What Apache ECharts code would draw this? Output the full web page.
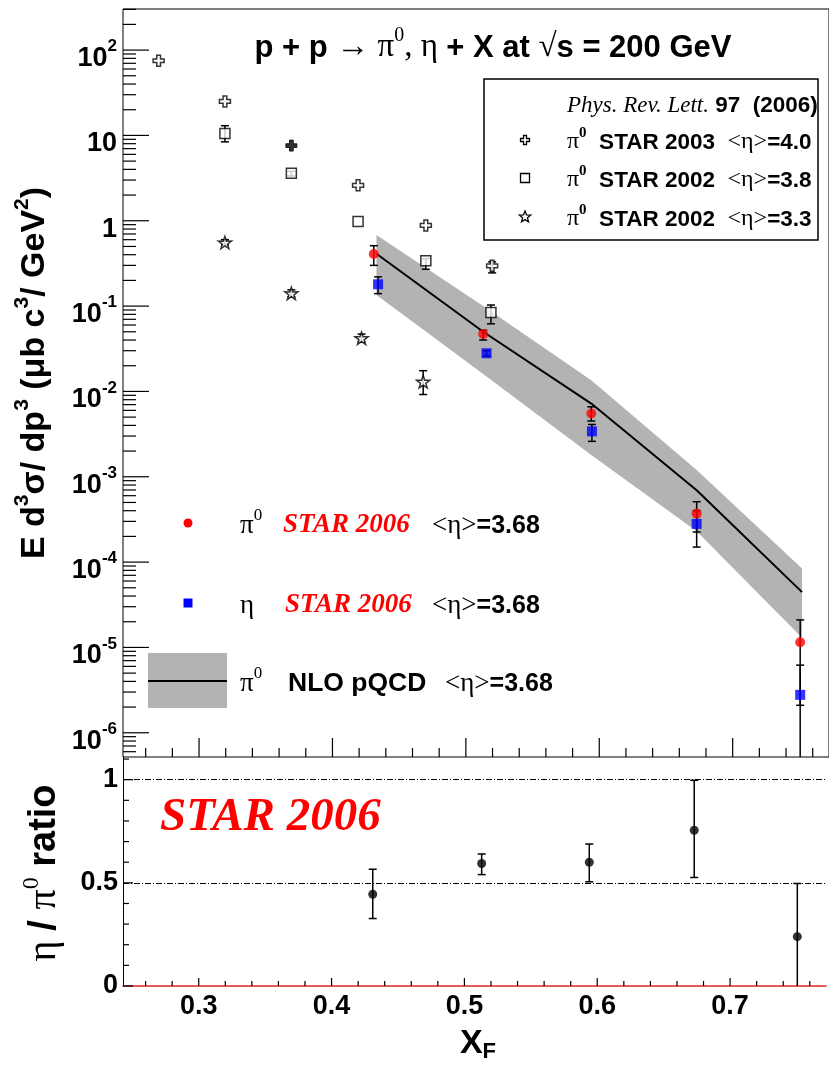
<!DOCTYPE html>
<html><head><meta charset="utf-8">
<script src="https://cdn.jsdelivr.net/npm/echarts@6/dist/echarts.min.js"></script>
<style>html,body{margin:0;padding:0;background:#fff}#c{width:829px;height:1069px}</style>
</head><body><div id="c"></div>
<script>
// ---------------- data ----------------
const xRange = [0.243, 0.7722];
const yRangeTop = [5.2e-7, 303];
const yRangeBottom = [0, 1.11];

// pi0 STAR 2003 <eta>=4.0 (open cross)
const s2003X = [0.2697, 0.3194, 0.4192, 0.470, 0.5197];
const s2003Y = [75, 25, 2.6, 0.88, 0.296];
const s2003Lo = [75, 25, 2.6, 0.88, 0.245];
const s2003Hi = [75, 25, 2.6, 0.88, 0.33];
const s2003FilledX = [0.3692];
const s2003FilledY = [7.6];

// pi0 STAR 2002 <eta>=3.8 (open square)
const s2002aX = [0.3194, 0.3692, 0.4192, 0.470, 0.5188];
const s2002aY = [10.5, 3.6, 0.98, 0.34, 0.084];
const s2002aLo = [8.4, 3.35, 0.98, 0.27, 0.062];
const s2002aHi = [13, 3.8, 0.98, 0.36, 0.103];

// pi0 STAR 2002 <eta>=3.3 (open star)
const s2002bX = [0.3194, 0.3692, 0.4218, 0.468];
const s2002bY = [0.555, 0.141, 0.042, 0.013];
const s2002bLo = [0.52, 0.128, 0.038, 0.0092];
const s2002bHi = [0.60, 0.155, 0.047, 0.0175];

// pi0 STAR 2006 (red circles)
const pi2006X = [0.431, 0.513, 0.594, 0.673, 0.7506];
const pi2006Y = [0.408, 0.047, 0.0055, 3.7e-4, 1.15e-5];
const pi2006Lo = [0.30, 0.040, 0.0045, 2.25e-4, 2.1e-6];
const pi2006Hi = [0.51, 0.052, 0.0066, 5.1e-4, 2.1e-5];

// eta STAR 2006 (blue squares)
const eta2006X = [0.4342, 0.5155, 0.5945, 0.673, 0.7506];
const eta2006Y = [0.18, 0.028, 0.0034, 2.8e-4, 2.78e-6];
const eta2006Lo = [0.14, 0.026, 0.0026, 1.5e-4, 1e-8];
const eta2006Hi = [0.22, 0.030, 0.0041, 4.0e-4, 6.2e-6];

// NLO pQCD pi0 (line + band)
const nloX = [0.433, 0.513, 0.594, 0.673, 0.752];
const nloY = [0.41, 0.050, 0.0072, 6.95e-4, 4.45e-5];
const nloLo = [0.135, 0.016, 1.8e-3, 2.3e-4, 1.3e-5];
const nloHi = [0.68, 0.10, 0.0135, 1.2e-3, 8.4e-5];

// eta / pi0 ratio
const ratioX = [0.431, 0.513, 0.594, 0.673, 0.7506];
const ratioY = [0.445, 0.594, 0.600, 0.755, 0.239];
const ratioLo = [0.327, 0.540, 0.505, 0.526, 0];
const ratioHi = [0.566, 0.640, 0.688, 0.997, 0.497];
const ratioRefLines = [0.5, 1];

// ticks
const xMajorTicks = [0.3, 0.4, 0.5, 0.6, 0.7];
const xMinorTicks = [0.26, 0.28, 0.32, 0.34, 0.36, 0.38, 0.42, 0.44, 0.46, 0.48,
  0.52, 0.54, 0.56, 0.58, 0.62, 0.64, 0.66, 0.68, 0.72, 0.74, 0.76];
const yTopMajorTicks = [1e-6, 1e-5, 1e-4, 1e-3, 1e-2, 1e-1, 1, 10, 100];
const yTopDecades = [1e-7, 1e-6, 1e-5, 1e-4, 1e-3, 1e-2, 1e-1, 1, 10, 100];
const yTopMantissas = [2, 3, 4, 5, 6, 7, 8, 9];
const yBottomMajorTicks = [0, 0.5, 1];
const yBottomMinorTicks = [0.1, 0.2, 0.3, 0.4, 0.6, 0.7, 0.8, 0.9, 1.1];

// ---------------- chart ----------------
const SANS = 'Liberation Sans', SERIF = 'Liberation Serif';
const CROSS = 'path://M3.3,0H6.7V3.3H10V6.7H6.7V10H3.3V6.7H0V3.3H3.3Z';
const STAR = 'path://M50,0L61.8,35.1L97.6,34.5L69,56.9L79.4,90.5L50,70L20.6,90.5L31,56.9L2.4,34.5L38.2,35.1Z';

const yTopMinorTicks = [];
yTopDecades.forEach(d => yTopMantissas.forEach(m => {
  const v = m * d;
  if (v > yRangeTop[0] && v < yRangeTop[1]) yTopMinorTicks.push(v);
}));

const pairs = (xs, ys) => xs.map((x, i) => [x, ys[i]]);
const triples = (xs, lo, hi) => xs.map((x, i) => [x, lo[i], hi[i]]);

function errRender(params, api) {
  const x = api.value(0), lo = api.value(1), hi = api.value(2);
  if (lo === hi) return null;
  const cs = params.coordSys;
  const bot = cs.y + cs.height;
  const pl = api.coord([x, lo]), ph = api.coord([x, hi]);
  let yl = pl[1], yh = ph[1];
  const st = { stroke: '#000', lineWidth: 1.5 };
  const kids = [];
  const lowClamped = !(yl <= bot);
  if (lowClamped) yl = bot;
  kids.push({ type: 'line', shape: { x1: pl[0], y1: yl, x2: ph[0], y2: yh }, style: st });
  const c = 4;
  if (!lowClamped && lo > 0) kids.push({ type: 'line', shape: { x1: pl[0] - c, y1: yl, x2: pl[0] + c, y2: yl }, style: st });
  kids.push({ type: 'line', shape: { x1: ph[0] - c, y1: yh, x2: ph[0] + c, y2: yh }, style: st });
  return { type: 'group', children: kids };
}
function errSeries(gi, xs, lo, hi) {
  return { type: 'custom', xAxisIndex: gi, yAxisIndex: gi, data: triples(xs, lo, hi),
    encode: { x: 0, y: [1, 2] }, renderItem: errRender, z: 3, silent: true };
}
function tickSeries(gi, data, dir, len) {
  return { type: 'custom', xAxisIndex: gi, yAxisIndex: gi, data: data, silent: true, z: 6, clip: false,
    encode: { x: 0, y: 1 },
    renderItem: function (params, api) {
      const p = api.coord([api.value(0), api.value(1)]);
      const s = { stroke: '#000', lineWidth: 1.2 };
      if (dir === 'right') return { type: 'line', shape: { x1: p[0], y1: p[1], x2: p[0] + len, y2: p[1] }, style: s };
      return { type: 'line', shape: { x1: p[0], y1: p[1], x2: p[0], y2: p[1] - len }, style: s };
    } };
}

function fmtLog(v) {
  const e = Math.log10(v), r = Math.round(e);
  if (Math.abs(e - r) > 1e-6) return '';
  if (r === 0) return '{b|1}';
  if (r === 1) return '{b|10}';
  return '{b|10}{s|' + r + '}';
}
const labB = { fontFamily: SANS, fontWeight: 'bold', fontSize: 27, color: '#000', lineHeight: 34, verticalAlign: 'bottom' };
const labS = { fontFamily: SANS, fontWeight: 'bold', fontSize: 17, color: '#000', lineHeight: 17, verticalAlign: 'top' };

const option = {
  animation: false,
  backgroundColor: '#fff',
  grid: [
    { left: 123, right: -2, top: 9, height: 748, show: true, borderColor: '#000', borderWidth: 1, backgroundColor: 'transparent' },
    { left: 123, right: -2, top: 757, height: 229 }
  ],
  xAxis: [
    { gridIndex: 0, type: 'value', min: xRange[0], max: xRange[1],
      axisLine: { show: false }, axisTick: { show: false }, axisLabel: { show: false }, splitLine: { show: false } },
    { gridIndex: 1, type: 'value', min: xRange[0], max: xRange[1],
      axisLine: { show: true, onZero: false, lineStyle: { color: '#e02424', width: 1.5 } },
      axisTick: { show: false }, splitLine: { show: false },
      axisLabel: { margin: 7, fontFamily: SANS, fontWeight: 'bold', fontSize: 27, color: '#000',
        formatter: v => (Math.abs(v * 10 - Math.round(v * 10)) < 1e-6 ? v.toFixed(1) : '') } }
  ],
  yAxis: [
    { gridIndex: 0, type: 'log', logBase: 10, min: yRangeTop[0], max: yRangeTop[1],
      axisLine: { show: false }, axisTick: { show: false }, splitLine: { show: false },
      axisLabel: { margin: 6, padding: [10, 0, 0, 0], formatter: fmtLog, rich: { b: labB, s: labS } } },
    { gridIndex: 1, type: 'value', min: yRangeBottom[0], max: yRangeBottom[1], interval: 0.5,
      axisLine: { show: true, onZero: false, lineStyle: { color: '#000', width: 1 } },
      axisTick: { show: false }, splitLine: { show: false },
      axisLabel: { margin: 5, padding: [8, 0, 0, 0], fontFamily: SANS, fontWeight: 'bold', fontSize: 27, color: '#000',
        formatter: v => (yBottomMajorTicks.indexOf(v) >= 0 ? String(v) : '') } }
  ],
  series: [
    // NLO band
    { type: 'custom', xAxisIndex: 0, yAxisIndex: 0, data: triples(nloX, nloLo, nloHi), encode: { x: 0, y: [1, 2] },
      z: 1, silent: true,
      renderItem: function (params, api) {
        if (params.dataIndex !== 0) return null;
        const up = nloX.map((x, i) => api.coord([x, nloHi[i]]));
        const dn = nloX.map((x, i) => api.coord([x, nloLo[i]])).reverse();
        return { type: 'polygon', shape: { points: up.concat(dn) }, style: { fill: '#b3b3b3' } };
      } },
    { type: 'line', xAxisIndex: 0, yAxisIndex: 0, data: pairs(nloX, nloY), showSymbol: false, symbol: 'none',
      lineStyle: { color: '#000', width: 2 }, z: 2, silent: true },
    // error bars
    errSeries(0, s2003X, s2003Lo, s2003Hi),
    errSeries(0, s2002aX, s2002aLo, s2002aHi),
    errSeries(0, s2002bX, s2002bLo, s2002bHi),
    errSeries(0, pi2006X, pi2006Lo, pi2006Hi),
    errSeries(0, eta2006X, eta2006Lo, eta2006Hi),
    // markers
    { type: 'scatter', xAxisIndex: 0, yAxisIndex: 0, data: pairs(s2003X, s2003Y), symbol: CROSS, symbolSize: 11, symbolKeepAspect: true,
      itemStyle: { color: '#fff', borderColor: '#000', borderWidth: 1.5 }, z: 4 },
    { type: 'scatter', xAxisIndex: 0, yAxisIndex: 0, data: pairs(s2003FilledX, s2003FilledY), symbol: CROSS, symbolSize: 11, symbolKeepAspect: true,
      itemStyle: { color: '#000', borderColor: '#000', borderWidth: 1 }, z: 4 },
    { type: 'scatter', xAxisIndex: 0, yAxisIndex: 0, data: pairs(s2002aX, s2002aY), symbol: 'rect', symbolSize: 10,
      itemStyle: { color: '#fff', borderColor: '#000', borderWidth: 1.5 }, z: 4 },
    { type: 'scatter', xAxisIndex: 0, yAxisIndex: 0, data: pairs(s2002bX, s2002bY), symbol: STAR, symbolSize: 13, symbolKeepAspect: true,
      itemStyle: { color: '#fff', borderColor: '#000', borderWidth: 1.5 }, z: 4 },
    { type: 'scatter', xAxisIndex: 0, yAxisIndex: 0, data: pairs(pi2006X, pi2006Y), symbol: 'circle', symbolSize: 10,
      itemStyle: { color: '#ff0000' }, z: 4 },
    { type: 'scatter', xAxisIndex: 0, yAxisIndex: 0, data: pairs(eta2006X, eta2006Y), symbol: 'rect', symbolSize: 10,
      itemStyle: { color: '#0000ff' }, z: 4 },
    // upper ticks
    tickSeries(0, yTopMajorTicks.map(v => [xRange[0], v]), 'right', 26),
    tickSeries(0, yTopMinorTicks.map(v => [xRange[0], v]), 'right', 13),
    tickSeries(0, xMajorTicks.map(v => [v, yRangeTop[0]]), 'up', 19),
    tickSeries(0, xMinorTicks.map(v => [v, yRangeTop[0]]), 'up', 9),
    // lower panel
    errSeries(1, ratioX, ratioLo, ratioHi),
    { type: 'scatter', xAxisIndex: 1, yAxisIndex: 1, data: pairs(ratioX, ratioY), symbol: 'circle', symbolSize: 9,
      itemStyle: { color: '#000' }, z: 4,
      markLine: { silent: true, symbol: 'none', label: { show: false },
        lineStyle: { color: '#000', width: 1, type: [6, 2, 1, 2] },
        data: ratioRefLines.map(v => ({ yAxis: v })) } },
    tickSeries(1, yBottomMajorTicks.map(v => [xRange[0], v]), 'right', 10),
    tickSeries(1, yBottomMinorTicks.map(v => [xRange[0], v]), 'right', 6),
    tickSeries(1, xMajorTicks.map(v => [v, yRangeBottom[0]]), 'up', 8),
    tickSeries(1, xMinorTicks.map(v => [v, yRangeBottom[0]]), 'up', 5)
  ],
  graphic: []
};

// ---------------- annotations ----------------
function rt(size, extra) { return Object.assign({ fontFamily: SANS, fontWeight: 'bold', fontSize: size, fill: '#000' }, extra || {}); }
function starPts(R, r) {
  const pts = [];
  for (let i = 0; i < 10; i++) {
    const a = -Math.PI / 2 + i * Math.PI / 5, rr = i % 2 ? r : R;
    pts.push([rr * Math.cos(a), rr * Math.sin(a)]);
  }
  return pts;
}
const crossPts = [[-1.5,-4.5],[1.5,-4.5],[1.5,-1.5],[4.5,-1.5],[4.5,1.5],[1.5,1.5],[1.5,4.5],[-1.5,4.5],[-1.5,1.5],[-4.5,1.5],[-4.5,-1.5],[-1.5,-1.5]];
const G = option.graphic;
function txt(x, y, text, rich, align, extra) {
  G.push(Object.assign({ type: 'text', x: x, y: y, z: 100, silent: true,
    style: { text: text, rich: rich, align: align || 'left', verticalAlign: 'middle' } }, extra || {}));
}

// title
txt(493, 45, '{b|p + p }{g|\u2192 \u03c0}{s|0}{g|, \u03b7 }{b|+ X at }{g|\u221a}{b|s = 200 GeV}', {
  b: rt(31, { lineHeight: 38, verticalAlign: 'bottom' }),
  g: { fontFamily: SERIF, fontSize: 33, fill: '#000', lineHeight: 38, verticalAlign: 'bottom' },
  s: { fontFamily: SERIF, fontSize: 20, fill: '#000', lineHeight: 20, verticalAlign: 'top' }
}, 'center');

// y title upper
txt(32, 373, '{b|E d}{s|3}{b|\u03c3/ dp}{s|3}{b| (\u03bcb c}{s|3}{b|/ GeV}{s|2}{b|)}', {
  b: rt(34, { lineHeight: 40, verticalAlign: 'bottom' }),
  s: rt(21, { lineHeight: 21, verticalAlign: 'top' })
}, 'center', { rotation: Math.PI / 2 });

// y title lower
txt(42, 873, '{g|\u03b7 }{b|/ }{g|\u03c0}{s|0}{b| ratio}', {
  b: rt(38, { lineHeight: 44, verticalAlign: 'bottom' }),
  g: { fontFamily: SERIF, fontSize: 40, fill: '#000', lineHeight: 44, verticalAlign: 'bottom' },
  s: { fontFamily: SERIF, fontSize: 24, fill: '#000', lineHeight: 24, verticalAlign: 'top' }
}, 'center', { rotation: Math.PI / 2 });

// x title
txt(478, 1045, '{b|X}{f|F}', {
  b: rt(34, { lineHeight: 36, verticalAlign: 'top' }),
  f: rt(22, { lineHeight: 16, verticalAlign: 'bottom' })
}, 'center');

// legend box (upper right)
G.push({ type: 'rect', z: 90, silent: true, shape: { x: 484, y: 79, width: 334, height: 161 },
  style: { fill: '#fff', stroke: '#000', lineWidth: 1.5 } });
const boxRich = {
  i: { fontFamily: SERIF, fontStyle: 'italic', fontSize: 23, fill: '#000', lineHeight: 28, verticalAlign: 'bottom' },
  b: rt(22.5, { lineHeight: 28, verticalAlign: 'bottom' }),
  g: { fontFamily: SERIF, fontSize: 24, fill: '#000', lineHeight: 28, verticalAlign: 'bottom' },
  s: { fontFamily: SERIF, fontWeight: 'bold', fontSize: 15, fill: '#000', lineHeight: 15, verticalAlign: 'top' }
};
txt(567, 103, '{i|Phys. Rev. Lett.}{b| 97  (2006)}', boxRich);
txt(567, 140, '{g|\u03c0}{s|0}{b|  STAR 2003  }{g|<\u03b7>}{b|=4.0}', boxRich);
txt(567, 178, '{g|\u03c0}{s|0}{b|  STAR 2002  }{g|<\u03b7>}{b|=3.8}', boxRich);
txt(567, 217, '{g|\u03c0}{s|0}{b|  STAR 2002  }{g|<\u03b7>}{b|=3.3}', boxRich);
G.push({ type: 'polygon', x: 525, y: 140, z: 100, silent: true, shape: { points: crossPts },
  style: { fill: '#fff', stroke: '#000', lineWidth: 1.3 } });
G.push({ type: 'rect', z: 100, silent: true, shape: { x: 520.5, y: 173.5, width: 9, height: 9 },
  style: { fill: '#fff', stroke: '#000', lineWidth: 1.3 } });
G.push({ type: 'polygon', x: 525, y: 217, z: 100, silent: true, shape: { points: starPts(6, 2.6) },
  style: { fill: '#fff', stroke: '#000', lineWidth: 1.3 } });

// lower legend
const legRich = {
  g: { fontFamily: SERIF, fontSize: 27, fill: '#000', lineHeight: 32, verticalAlign: 'bottom' },
  s: { fontFamily: SERIF, fontSize: 17, fill: '#000', lineHeight: 17, verticalAlign: 'top' },
  r: { fontFamily: SERIF, fontStyle: 'italic', fontWeight: 'bold', fontSize: 27, fill: '#ff0000', lineHeight: 32, verticalAlign: 'bottom' },
  b: rt(25, { lineHeight: 32, verticalAlign: 'bottom' }),
  n: rt(26.5, { lineHeight: 32, verticalAlign: 'bottom' })
};
G.push({ type: 'circle', z: 100, silent: true, shape: { cx: 188, cy: 523, r: 4.5 }, style: { fill: '#ff0000' } });
txt(240, 523, '{g|\u03c0}{s|0}', legRich);
txt(283, 523, '{r|STAR 2006}', legRich);
txt(432, 523, '{g|<\u03b7>}{b|=3.68}', legRich);
G.push({ type: 'rect', z: 100, silent: true, shape: { x: 183.5, y: 598.5, width: 9, height: 9 }, style: { fill: '#0000ff' } });
txt(240, 603, '{g|\u03b7}', legRich);
txt(285, 603, '{r|STAR 2006}', legRich);
txt(432, 603, '{g|<\u03b7>}{b|=3.68}', legRich);
G.push({ type: 'rect', z: 100, silent: true, shape: { x: 148, y: 653, width: 79, height: 55 }, style: { fill: '#b3b3b3' } });
G.push({ type: 'line', z: 101, silent: true, shape: { x1: 148, y1: 681, x2: 227, y2: 681 }, style: { stroke: '#000', lineWidth: 2 } });
txt(240, 681, '{g|\u03c0}{s|0}', legRich);
txt(288, 681, '{n|NLO pQCD}', legRich);
txt(445, 681, '{g|<\u03b7>}{b|=3.68}', legRich);

// big STAR 2006 label in ratio panel
txt(160, 818, '{r|STAR 2006}', {
  r: { fontFamily: SERIF, fontStyle: 'italic', fontWeight: 'bold', fontSize: 47, fill: '#ff0000' }
});

const chart = echarts.init(document.getElementById('c'));
chart.setOption(option);
</script>
</body></html>
